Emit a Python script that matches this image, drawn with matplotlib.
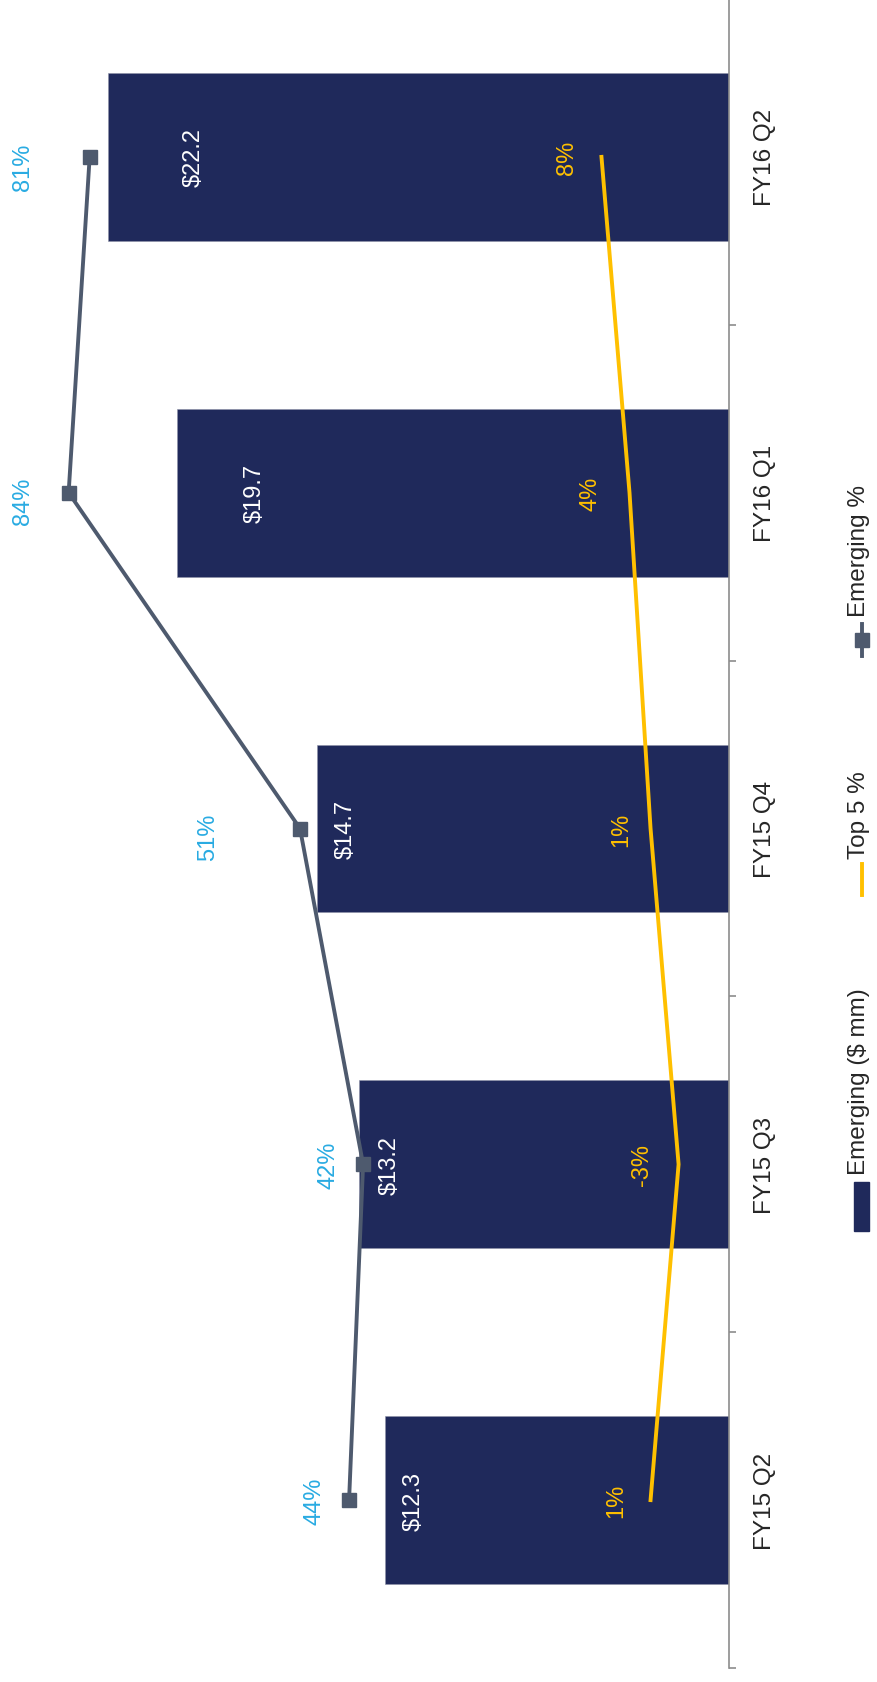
import matplotlib
matplotlib.use("Agg")
import matplotlib.pyplot as plt
from matplotlib.patches import Rectangle
from matplotlib.lines import Line2D

plt.rcParams["font.family"] = ["Liberation Sans Narrow", "Liberation Sans", "DejaVu Sans"]

# 数据
quarters = ["FY15 Q2", "FY15 Q3", "FY15 Q4", "FY16 Q1", "FY16 Q2"]
emerging = [12.3, 13.2, 14.7, 19.7, 22.2]
emerging_pct = [44, 42, 51, 84, 81]
top5_pct = [1, -3, 1, 4, 8]

# 标签偏移 (points)
bar_lab_off = [21, 21.5, 20, 55.6, 61.8]
emg_lab_off = [(-24.7, 0), (-24.7, 0), (-66, -5.4), (-33, -5.4), (-48, -7)]
top_lab_off = [-24.7, -26.3, -20.8, -27.8, -24.7]

bar_color = "#1F295B"
line_color = "#4E5A6E"
yellow = "#FFC000"
blue = "#29ABE2"
axis_color = "#8C8C8C"
fs = 17
lw = 2.8

W, H = 877, 1683
fig = plt.figure(figsize=(W / 100, H / 100), dpi=100)
ax = fig.add_axes([0, 14 / H, 729 / W, 1679 / H])

y = list(range(len(quarters)))
ax.barh(y, emerging, height=0.5, color=bar_color, edgecolor="#8E92A8", linewidth=0.4)
ax.set_xlim(26.04, 0)
ax.set_ylim(-0.5, 4.5)

for s in ["top", "left", "bottom"]:
    ax.spines[s].set_visible(False)
ax.spines["right"].set_color(axis_color)
ax.spines["right"].set_linewidth(1.2)
ax.set_xticks([])
ax.yaxis.tick_right()
ax.set_yticks(y)
ax.set_yticklabels(quarters, rotation=90, va="center", fontsize=fs + 0.5, color="#262626")
ax.tick_params(axis="y", which="major", length=0, pad=18)
ax.set_yticks([i - 0.5 for i in range(len(quarters) + 1)], minor=True)
ax.tick_params(axis="y", which="minor", length=5, width=1.2, color=axis_color, direction="out")

for i, v in enumerate(emerging):
    ax.annotate("$" + str(v), (v, i), xytext=(bar_lab_off[i], 0), textcoords="offset points",
                rotation=90, ha="center", va="center", color="white", fontsize=fs)

# 第二坐标轴 (%)
ax2 = ax.twiny()
ax2.set_xlim(93.79, -10.19)
ax2.set_ylim(-0.5, 4.5)
ax2.axis("off")
ax2.plot(top5_pct, y, color=yellow, linewidth=lw, zorder=3)
ax2.plot(emerging_pct, y, color=line_color, linewidth=lw, marker="s", markersize=9.5, zorder=4)

for i, v in enumerate(top5_pct):
    ax2.annotate(str(v) + "%", (v, i), xytext=(top_lab_off[i], 0), textcoords="offset points",
                 rotation=90, ha="center", va="center", color=yellow, fontsize=fs)
for i, v in enumerate(emerging_pct):
    ax2.annotate(str(v) + "%", (v, i), xytext=emg_lab_off[i], textcoords="offset points",
                 rotation=90, ha="center", va="center", color=blue, fontsize=fs)

# 图例 (旋转)
def fx(px):
    return px / W


def fy(py):
    return 1 - py / H


fig.add_artist(Rectangle((fx(854), fy(1232)), 15 / W, 49 / H, color=bar_color, transform=fig.transFigure))
fig.text(fx(859), fy(1175), "Emerging ($ mm)", rotation=90, ha="center", va="bottom", fontsize=fs + 0.5, color="#262626")
fig.add_artist(Line2D([fx(862), fx(862)], [fy(896), fy(865)], color=yellow, linewidth=lw, transform=fig.transFigure))
fig.text(fx(859), fy(859), "Top 5 %", rotation=90, ha="center", va="bottom", fontsize=fs + 0.5, color="#262626")
fig.add_artist(Line2D([fx(862), fx(862)], [fy(657), fy(625)], color=line_color, linewidth=lw, transform=fig.transFigure))
fig.add_artist(Line2D([fx(862)], [fy(641)], color=line_color, marker="s", markersize=9.5, transform=fig.transFigure))
fig.text(fx(859), fy(617), "Emerging %", rotation=90, ha="center", va="bottom", fontsize=fs + 0.5, color="#262626")

plt.savefig("out.png", dpi=100)
